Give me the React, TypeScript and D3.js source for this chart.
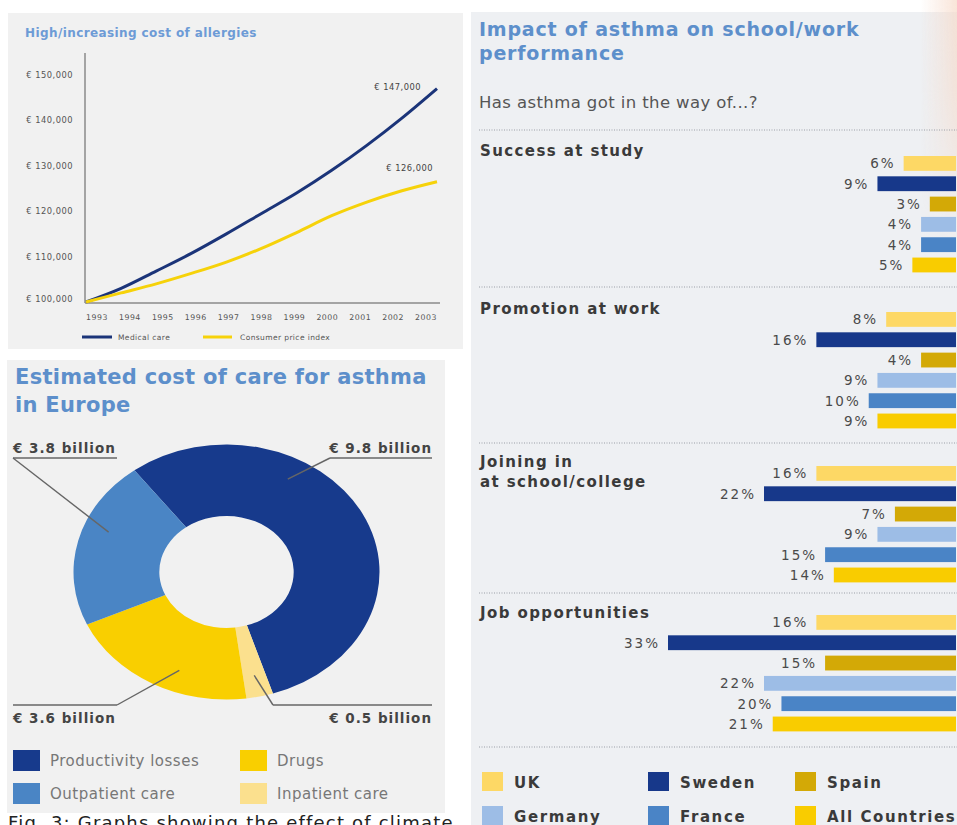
import React from "react";
import * as d3 from "d3";

// ---------- Data ----------
const years = [1993, 1994, 1995, 1996, 1997, 1998, 1999, 2000, 2001, 2002, 2003];
const medicalCare = [100000, 103000, 106800, 110700, 115000, 119500, 124000, 129000, 134500, 140500, 147000];
const consumerPriceIndex = [100000, 102000, 104000, 106300, 108800, 111800, 115300, 119000, 122000, 124500, 126500];
const costTicks = [100000, 110000, 120000, 130000, 140000, 150000];
const endLabels = ["€ 147,000", "€ 126,000"];
const lineSeries = ["Medical care", "Consumer price index"];

const costCategories = ["Productivity losses", "Inpatient care", "Drugs", "Outpatient care"];
const costValues = [9.8, 0.5, 3.6, 3.8];

const questions = ["Success at study", "Promotion at work", "Joining in|at school/college", "Job opportunities"];
const countries = ["UK", "Sweden", "Spain", "Germany", "France", "All Countries"];
const successAtStudy = [6, 9, 3, 4, 4, 5];
const promotionAtWork = [8, 16, 4, 9, 10, 9];
const joiningIn = [16, 22, 7, 9, 15, 14];
const jobOpportunities = [16, 33, 15, 22, 20, 21];
const questionValues = [successAtStudy, promotionAtWork, joiningIn, jobOpportunities];

// ---------- Styles ----------
const FONT = "'DejaVu Sans', Verdana, sans-serif";
const NAVY = "#1b3479";
const LINE_YELLOW = "#f6d20a";
const TITLE_BLUE = "#5d8fcb";
const countryColors = ["#fdd865", "#17388a", "#d3a906", "#9dbde6", "#4a84c6", "#f9cc00"];
const costColors: Record<string, string> = {
  "Productivity losses": "#173a8c",
  "Inpatient care": "#fbe08e",
  "Drugs": "#f9cf00",
  "Outpatient care": "#4a85c5",
};

export default function App() {
  // ---------- Line chart ----------
  const x = d3.scaleLinear().domain([1993, 2003]).range([86, 437]);
  const xLabel = d3.scaleLinear().domain([1993, 2003]).range([97, 426]);
  const y = d3.scaleLinear().domain([100000, 150000]).range([302, 75]);
  const line = d3
    .line<number>()
    .x((_, i) => x(years[i]))
    .y((v) => y(v))
    .curve(d3.curveMonotoneX);
  const series = [medicalCare, consumerPriceIndex];
  const seriesColors = [NAVY, LINE_YELLOW];

  // ---------- Donut ----------
  const deg = Math.PI / 180;
  const pie = d3
    .pie<number>()
    .sort(null)
    .value((v) => v)
    .startAngle(-37 * deg)
    .endAngle(323 * deg);
  const arcs = pie(costValues);
  const outerR = 127.5;
  const innerR = 56;
  const arcGen = d3.arc<d3.PieArcDatum<number>>().innerRadius(innerR).outerRadius(outerR);
  const cx = 226.5;
  const cy = 572;
  const sx = 1.2;
  const leaderFrac = [0.33, 0.5, 0.4, 0.6];
  const leaderR = 106;
  const leaderPt = (i: number) => {
    const a = arcs[i].startAngle + (arcs[i].endAngle - arcs[i].startAngle) * leaderFrac[i];
    return [cx + Math.sin(a) * leaderR * sx, cy - Math.cos(a) * leaderR];
  };
  const fmtB = (v: number) => `€ ${v.toFixed(1)} billion`;
  const donutLabels = [
    { i: 0, x: 432, y: 453, anchor: "end", lineY: 458, x0: 330, x1: 432, from: 330 },
    { i: 3, x: 13, y: 453, anchor: "start", lineY: 458, x0: 13, x1: 117, from: 13 },
    { i: 2, x: 13, y: 723, anchor: "start", lineY: 705, x0: 13, x1: 117, from: 117 },
    { i: 1, x: 432, y: 723, anchor: "end", lineY: 705, x0: 273, x1: 432, from: 273 },
  ];
  const donutLegendOrder = ["Productivity losses", "Drugs", "Outpatient care", "Inpatient care"];

  // ---------- Bars ----------
  const bx = d3.scaleLinear().domain([0, 33]).range([956, 668]);
  const groupTops = [156, 312, 466, 615];
  const by = d3.scaleBand<string>().domain(countries).range([0, 116.4]).paddingInner(0.27).paddingOuter(0);
  const separators = [130, 287, 443, 593, 747];
  const titleBaselines = [156, 314, 467, 618];

  return (
    <svg
      width={957}
      height={825}
      style={{ position: "absolute", left: 0, top: 0, background: "#ffffff", fontFamily: FONT }}
    >
      <defs>
        <linearGradient id="peach" x1="0" x2="1" y1="0" y2="0">
          <stop offset="0" stopColor="#f6dccd" stopOpacity="0" />
          <stop offset="1" stopColor="#f6d8c6" stopOpacity="0.7" />
        </linearGradient>
        <linearGradient id="peachFade" x1="0" x2="0" y1="0" y2="1">
          <stop offset="0" stopColor="#fff" stopOpacity="1" />
          <stop offset="0.35" stopColor="#fff" stopOpacity="0.8" />
          <stop offset="1" stopColor="#fff" stopOpacity="0" />
        </linearGradient>
        <mask id="peachMask">
          <rect x={920} y={0} width={37} height={260} fill="url(#peachFade)" />
        </mask>
      </defs>

      {/* ===== Panel 1: line chart ===== */}
      <rect x={8} y={13} width={455} height={336} fill="#f1f1f1" />
      <text x={25} y={37} fontSize={12} fontWeight="bold" fill="#6d9bd6" letterSpacing={0.4}>
        High/increasing cost of allergies
      </text>
      {costTicks.map((t) => (
        <text key={t} x={73} y={y(t) + (t === 100000 ? 0 : 3)} fontSize={8.3} fill="#555" textAnchor="end" letterSpacing={0.5}>
          {`€ ${d3.format(",")(t)}`}
        </text>
      ))}
      <line x1={85} x2={85} y1={53} y2={303} stroke="#8a8a8a" strokeWidth={1.5} />
      <line x1={85} x2={440} y1={303} y2={303} stroke="#8a8a8a" strokeWidth={1.5} />
      {years.map((yr) => (
        <text key={yr} x={xLabel(yr)} y={320} fontSize={7.8} fill="#555" textAnchor="middle" letterSpacing={0.5}>
          {yr}
        </text>
      ))}
      {series.map((s, i) => (
        <path key={i} d={line(s) || ""} fill="none" stroke={seriesColors[i]} strokeWidth={3} />
      ))}
      <text x={421} y={90} fontSize={8.3} fill="#444" textAnchor="end" letterSpacing={0.5}>
        {endLabels[0]}
      </text>
      <text x={433} y={171} fontSize={8.3} fill="#444" textAnchor="end" letterSpacing={0.5}>
        {endLabels[1]}
      </text>
      {lineSeries.map((name, i) => (
        <g key={name}>
          <line x1={i === 0 ? 82 : 203} x2={i === 0 ? 112 : 232} y1={337} y2={337} stroke={seriesColors[i]} strokeWidth={3} />
          <text x={i === 0 ? 118 : 240} y={340} fontSize={7.5} fill="#555" letterSpacing={0.4}>
            {name}
          </text>
        </g>
      ))}

      {/* ===== Panel 2: donut ===== */}
      <rect x={7} y={360} width={438} height={453} fill="#f1f1f1" />
      <text x={15} y={384} fontSize={21} fontWeight="bold" fill={TITLE_BLUE} letterSpacing={0.3}>
        Estimated cost of care for asthma
      </text>
      <text x={15} y={412} fontSize={21} fontWeight="bold" fill={TITLE_BLUE} letterSpacing={0.3}>
        in Europe
      </text>
      <g transform={`translate(${cx},${cy}) scale(${sx},1)`}>
        {arcs.map((a, i) => (
          <path key={i} d={arcGen(a) || ""} fill={costColors[costCategories[i]]} />
        ))}
      </g>
      {donutLabels.map((l) => {
        const [px, py] = leaderPt(l.i);
        return (
          <g key={l.i}>
            <text x={l.x} y={l.y} fontSize={13.5} fontWeight="bold" fill="#444" textAnchor={l.anchor as any} letterSpacing={1}>
              {fmtB(costValues[l.i])}
            </text>
            <line x1={l.x0} x2={l.x1} y1={l.lineY} y2={l.lineY} stroke="#666" strokeWidth={1.4} />
            <line x1={l.from} y1={l.lineY} x2={px} y2={py} stroke="#666" strokeWidth={1.4} />
          </g>
        );
      })}
      {donutLegendOrder.map((name, i) => {
        const col = i % 2;
        const row = Math.floor(i / 2);
        const lx = col === 0 ? 13 : 240;
        const ly = row === 0 ? 750 : 783;
        return (
          <g key={name}>
            <rect x={lx} y={ly} width={27} height={21} fill={costColors[name]} />
            <text x={lx + 37} y={ly + 16} fontSize={15} fill="#777" letterSpacing={0.5}>
              {name}
            </text>
          </g>
        );
      })}
      <text x={8} y={829} fontSize={18} fill="#222" letterSpacing={1.2}>
        Fig. 3: Graphs showing the effect of climate
      </text>

      {/* ===== Panel 3: bars ===== */}
      <rect x={471} y={12} width={486} height={813} fill="#eef0f3" />
      <rect x={920} y={0} width={37} height={260} fill="url(#peach)" mask="url(#peachMask)" />
      <text x={479} y={36} fontSize={19} fontWeight="bold" fill={TITLE_BLUE} letterSpacing={0.8}>
        Impact of asthma on school/work
      </text>
      <text x={479} y={60} fontSize={19} fontWeight="bold" fill={TITLE_BLUE} letterSpacing={0.8}>
        performance
      </text>
      <text x={479} y={108} fontSize={16.5} fill="#555" letterSpacing={0.4}>
        Has asthma got in the way of...?
      </text>
      {separators.map((s) => (
        <line key={s} x1={479} x2={957} y1={s} y2={s} stroke="#9a9ea6" strokeWidth={1} strokeDasharray="1,1.5" />
      ))}
      {questions.map((q, gi) => (
        <g key={q}>
          {q.split("|").map((part, li) => (
            <text key={li} x={480} y={titleBaselines[gi] + li * 20} fontSize={15} fontWeight="bold" fill="#3a3a3a" letterSpacing={1.4}>
              {part}
            </text>
          ))}
          {questionValues[gi].map((v, ci) => {
            const top = groupTops[gi] + (by(countries[ci]) || 0);
            const h = by.bandwidth();
            return (
              <g key={ci}>
                <rect x={bx(v)} y={top} width={bx(0) - bx(v)} height={h} fill={countryColors[ci]} />
                <text
                  x={bx(v) - 8}
                  y={top + h / 2 + 5}
                  fontSize={13.5}
                  fill="#4a4a4a"
                  textAnchor="end"
                  letterSpacing={2}
                >
                  {`${v}%`}
                </text>
              </g>
            );
          })}
        </g>
      ))}
      {countries.map((c, i) => {
        const col = i % 3;
        const row = Math.floor(i / 3);
        const lx = [482, 648, 795][col];
        const ly = row === 0 ? 772 : 806;
        return (
          <g key={c}>
            <rect x={lx} y={ly} width={21} height={19} fill={countryColors[i]} />
            <text x={lx + 32} y={ly + 16} fontSize={15} fontWeight="bold" fill="#3a3a3a" letterSpacing={1.6}>
              {c}
            </text>
          </g>
        );
      })}
    </svg>
  );
}
